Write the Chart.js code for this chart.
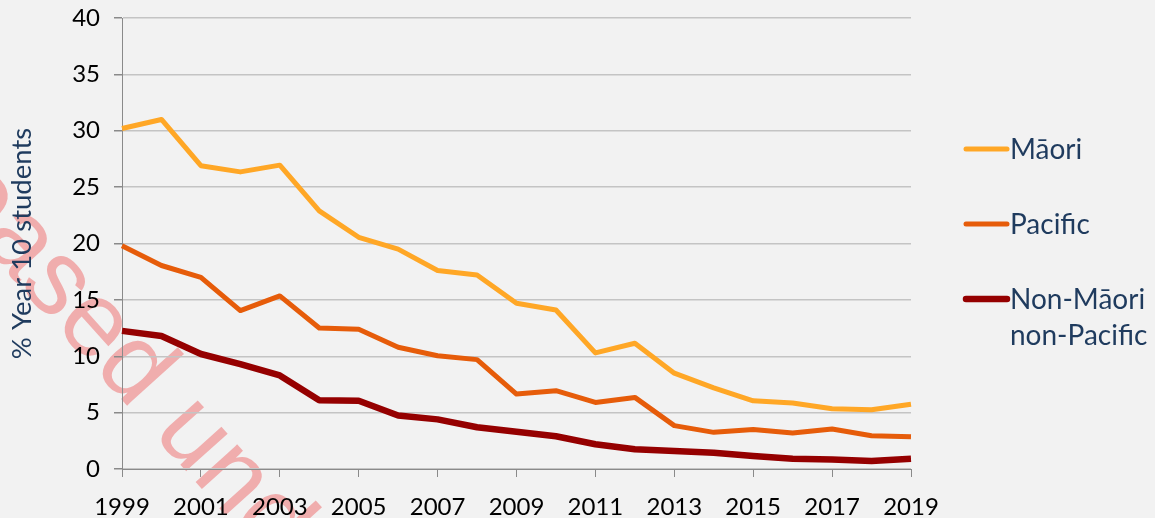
<!DOCTYPE html>
<html>
<head>
<meta charset="utf-8">
<script src="https://cdn.jsdelivr.net/npm/chart.js@4/dist/chart.umd.min.js"></script>
<style>
  html, body { margin: 0; padding: 0; background: #f2f2f2; }
  #wrap { width: 1155px; height: 518px; }
</style>
</head>
<body>
<div id="wrap"><canvas id="chart" width="1155" height="518"></canvas></div>
<script>
// values
const years = ['1999','2000','2001','2002','2003','2004','2005','2006','2007','2008','2009',
  '2010','2011','2012','2013','2014','2015','2016','2017','2018','2019'];
const maori = [30.2, 31.0, 26.9, 26.35, 26.95, 22.9, 20.55, 19.5, 17.6, 17.2, 14.7,
  14.1, 10.3, 11.15, 8.5, 7.2, 6.05, 5.85, 5.35, 5.25, 5.75];
const pacific = [19.8, 18.05, 17.0, 14.05, 15.35, 12.5, 12.4, 10.8, 10.05, 9.7, 6.65,
  6.95, 5.9, 6.35, 3.85, 3.25, 3.5, 3.2, 3.55, 2.95, 2.85];
const nonMaoriNonPacific = [12.25, 11.8, 10.2, 9.3, 8.3, 6.1, 6.05, 4.75, 4.4, 3.7, 3.3,
  2.9, 2.2, 1.75, 1.6, 1.45, 1.15, 0.9, 0.85, 0.7, 0.9];
const legendLabels = [['Māori'], ['Pacific'], ['Non-Māori', 'non-Pacific']];
const yTitle = '% Year 10 students';
const watermark = 'Released under the Official Information Act 1982';

const colours = ['#ffa726', '#e65c0a', '#950000'];
const navy = '#1f3b5e';

// background + faint diagonal stamp behind everything
const backdrop = {
  id: 'backdrop',
  beforeDraw(chart) {
    const ctx = chart.ctx;
    ctx.save();
    ctx.fillStyle = '#f2f2f2';
    ctx.fillRect(0, 0, chart.width, chart.height);
    ctx.translate(-168, 78);
    ctx.rotate(48 * Math.PI / 180);
    ctx.font = '106px "Liberation Sans"';
    ctx.fillStyle = 'rgba(238, 70, 70, 0.4)';
    ctx.textBaseline = 'alphabetic';
    ctx.fillText(watermark, 0, 0);
    ctx.restore();
  }
};

// legend on the right, one entry per series, label may wrap
const sideLegend = {
  id: 'sideLegend',
  afterDraw(chart) {
    const ctx = chart.ctx;
    const x0 = 966, ys = [149, 224, 299];
    ctx.save();
    ctx.font = '28px Lato';
    ctx.textBaseline = 'middle';
    ctx.fillStyle = navy;
    chart.data.datasets.forEach((ds, i) => {
      ctx.strokeStyle = ds.borderColor;
      ctx.lineWidth = ds.borderWidth;
      ctx.lineCap = 'round';
      ctx.beginPath();
      ctx.moveTo(x0, ys[i]);
      ctx.lineTo(x0 + 41, ys[i]);
      ctx.stroke();
      legendLabels[i].forEach((t, j) => ctx.fillText(t, x0 + 44, ys[i] + 1 + j * 36));
    });
    ctx.restore();
  }
};

new Chart(document.getElementById('chart'), {
  type: 'line',
  data: {
    labels: years,
    datasets: [
      { label: 'Māori', data: maori, borderColor: colours[0], borderWidth: 5 },
      { label: 'Pacific', data: pacific, borderColor: colours[1], borderWidth: 5 },
      { label: 'Non-Māori non-Pacific', data: nonMaoriNonPacific, borderColor: colours[2], borderWidth: 6.5 }
    ]
  },
  options: {
    responsive: false,
    animation: false,
    elements: {
      point: { radius: 0 },
      line: { tension: 0, borderJoinStyle: 'round', borderCapStyle: 'butt' }
    },
    layout: { padding: { left: 0, right: 244, top: 18, bottom: 0 } },
    plugins: { legend: { display: false }, tooltip: { enabled: false } },
    scales: {
      x: {
        offset: false,
        afterFit: s => { s.height = 49; },
        grid: { drawOnChartArea: false, tickLength: 8, tickColor: '#8a8a8a' },
        border: { color: '#8a8a8a', width: 1 },
        ticks: {
          autoSkip: false, maxRotation: 0, padding: 16,
          color: '#000', font: { family: 'Lato', size: 24 },
          callback: (v, i) => (i % 2 === 0 ? years[i] : null)
        }
      },
      y: {
        min: 0, max: 40,
        afterFit: s => { s.width = 122; s.paddingTop = 0; s.paddingBottom = 0; },
        grid: { color: '#c4c4c4', lineWidth: 1.5, tickLength: 8, tickColor: '#8a8a8a' },
        border: { color: '#8a8a8a', width: 1 },
        ticks: { stepSize: 5, padding: 14, color: '#000', font: { family: 'Lato', size: 24 } },
        title: {
          display: true, text: yTitle, color: navy,
          font: { family: 'Lato', size: 27.5 }, padding: { top: 6, bottom: 0 }
        }
      }
    }
  },
  plugins: [backdrop, sideLegend]
});
</script>
</body>
</html>
